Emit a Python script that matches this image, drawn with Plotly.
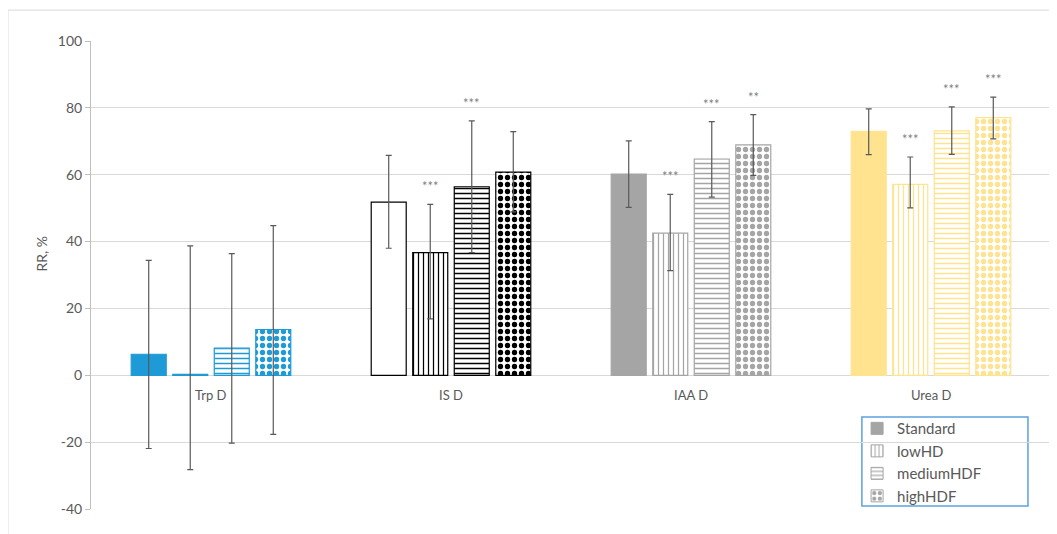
import plotly.graph_objects as go

categories = ["Trp D", "IS D", "IAA D", "Urea D"]
series_names = ["Standard", "lowHD", "mediumHDF", "highHDF"]

standard = [6.3, 51.8, 60.2, 73.0]
standard_err_plus = [28.1, 14.0, 9.9, 6.7]
standard_err_minus = [28.2, 13.8, 10.0, 7.0]

low_hd = [0.3, 36.7, 42.5, 57.1]
low_hd_err_plus = [38.4, 14.4, 11.6, 8.2]
low_hd_err_minus = [28.5, 19.8, 11.2, 7.0]

medium_hdf = [8.1, 56.4, 64.7, 73.1]
medium_hdf_err_plus = [28.3, 19.7, 11.2, 7.2]
medium_hdf_err_minus = [28.4, 19.7, 11.4, 7.0]

high_hdf = [13.7, 60.8, 68.9, 77.1]
high_hdf_err_plus = [31.1, 12.1, 9.1, 6.1]
high_hdf_err_minus = [31.4, 11.9, 9.1, 6.4]

sig_low = ["", "***", "***", "***"]
sig_medium = ["", "***", "***", "***"]
sig_high = ["", "", "**", "***"]

y_ticks = [-40, -20, 0, 20, 40, 60, 80, 100]
y_tick_labels = ["-40", "-20", "0", "20", "40", "60", "80", "100"]

# styles
cat_colors = ["#1E9BD7", "#000000", "#A5A5A5", "#FFE38F"]
std_fill = ["#1E9BD7", "#FFFFFF", "#A5A5A5", "#FFE38F"]
legend_gray = "#A5A5A5"
err_color = "#595959"
text_color = "#595959"
font_family = "Lato, 'Open Sans', sans-serif"

values = [standard, low_hd, medium_hdf, high_hdf]
err_plus = [standard_err_plus, low_hd_err_plus, medium_hdf_err_plus, high_hdf_err_plus]
err_minus = [standard_err_minus, low_hd_err_minus, medium_hdf_err_minus, high_hdf_err_minus]
sigs = [None, sig_low, sig_medium, sig_high]
patterns = [
    None,
    dict(shape="|", size=5, solidity=0.25),
    dict(shape="-", size=5, solidity=0.3),
    dict(shape=".", size=7, solidity=0.45),
]

fig = go.Figure()

for i, name in enumerate(series_names):
    marker = dict(line=dict(color=cat_colors, width=1.2))
    if patterns[i] is None:
        marker["color"] = std_fill
    else:
        p = dict(patterns[i])
        p.update(fgcolor=cat_colors, bgcolor="#FFFFFF", fillmode="replace")
        marker["color"] = "#FFFFFF"
        marker["pattern"] = p
    fig.add_trace(go.Bar(
        x=categories, y=values[i], name=name, marker=marker,
        offsetgroup=str(i), showlegend=False,
        error_y=dict(type="data", symmetric=False, array=err_plus[i],
                     arrayminus=err_minus[i], color=err_color,
                     thickness=1.2, width=3),
    ))
    # legend-only entry (gray, as in the reference legend)
    lmarker = dict(line=dict(color=legend_gray, width=1))
    if patterns[i] is None:
        lmarker["color"] = legend_gray
    else:
        p = dict(patterns[i])
        p.update(fgcolor=legend_gray, bgcolor="#FFFFFF", fillmode="replace")
        lmarker["color"] = "#FFFFFF"
        lmarker["pattern"] = p
    fig.add_trace(go.Bar(x=[None], y=[None], name=name, marker=lmarker,
                         offsetgroup=str(i), showlegend=True))

# significance stars
n_series = len(series_names)
for i in range(1, n_series):
    for j, cat in enumerate(categories):
        s = sigs[i][j]
        if not s:
            continue
        fig.add_annotation(
            x=cat, y=values[i][j] + err_plus[i][j], text=s, showarrow=False,
            xref="x", yref="y", xshift=(i - (n_series - 1) / 2) * 41.5,
            yshift=18, yanchor="middle",
            font=dict(size=13, color="#7F7F7F", family=font_family),
        )

# category labels along the zero line
for cat in categories:
    fig.add_annotation(x=cat, y=0, text=cat, showarrow=False, xref="x", yref="y",
                       yshift=-20, font=dict(size=13, color=text_color, family=font_family))

# y title
fig.add_annotation(text="RR, %", x=-0.0625, y=0.545, xref="paper", yref="paper",
                   textangle=-90, showarrow=False,
                   font=dict(size=14, color=text_color, family=font_family))

# outer frame and legend box
fig.add_shape(type="rect", xref="paper", yref="paper", x0=-0.0865, x1=1.006,
              y0=-0.06, y1=1.066, line=dict(color="#D9D9D9", width=1), layer="below")
fig.add_shape(type="rect", xref="paper", yref="paper", x0=0.803, x1=0.976,
              y0=0.0064, y1=0.1966, line=dict(color="#5BA3DC", width=1.5),
              fillcolor="white", layer="below")

# page body has an 8px margin: size and margins compensate for it
fig.update_layout(
    width=1049, height=526,
    margin=dict(l=83, r=6, t=33, b=25),
    paper_bgcolor="white", plot_bgcolor="white",
    barmode="group", bargap=0.308, bargroupgap=0.157,
    font=dict(family=font_family, color=text_color),
    legend=dict(x=0.798, y=0.207, xanchor="left", yanchor="top",
                bgcolor="rgba(0,0,0,0)", borderwidth=0,
                font=dict(size=15, color=text_color, family=font_family),
                tracegroupgap=0, itemwidth=30),
    xaxis=dict(showticklabels=False, showgrid=False, showline=False, ticks="",
               zeroline=False),
    yaxis=dict(range=[-40, 100], tickvals=y_ticks, ticktext=y_tick_labels,
               showgrid=True, gridcolor="#D9D9D9",
               gridwidth=1, zeroline=True, zerolinecolor="#D9D9D9", zerolinewidth=1,
               showline=True, linecolor="#BFBFBF", linewidth=1, ticks="outside",
               ticklen=5, tickcolor="#BFBFBF",
               tickfont=dict(size=14, color=text_color, family=font_family)),
)

fig.write_html("out.html")
